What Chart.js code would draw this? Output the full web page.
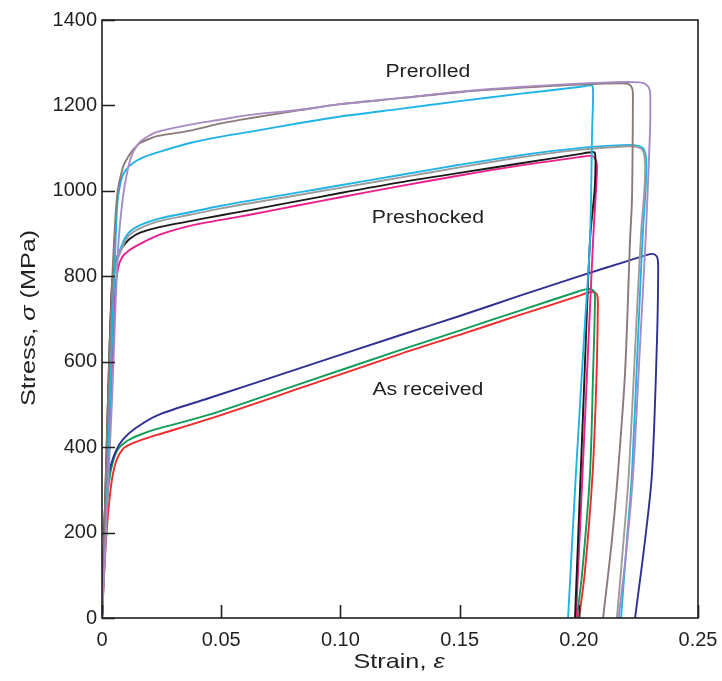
<!DOCTYPE html>
<html>
<head>
<meta charset="utf-8">
<script src="https://cdn.jsdelivr.net/npm/chart.js@4/dist/chart.umd.min.js"></script>
<style>
  html, body { margin: 0; padding: 0; background: #ffffff; }
  #wrap { position: relative; width: 722px; height: 681px; }
</style>
</head>
<body>
<div id="wrap"><canvas id="c" width="722" height="681"></canvas></div>
<script>
// ---- tick labels ----
const xTickValues = [0, 0.05, 0.10, 0.15, 0.20, 0.25];
const xTickLabels = ['0', '0.05', '0.10', '0.15', '0.20', '0.25'];
const yTickValues = [0, 200, 400, 600, 800, 1000, 1200, 1400];
const yTickLabels = ['0', '200', '400', '600', '800', '1000', '1200', '1400'];

// ---- group labels ----
const groupNames = ['Prerolled', 'Preshocked', 'As received'];
const groupLabelStrain = [0.1367, 0.1367, 0.1367];
const groupLabelStress = [1278, 936, 534];

// ---- As received ----
const navyStrain = [0, 0.0012, 0.0022, 0.0034, 0.0059, 0.0088, 0.014, 0.023, 0.045, 0.0831, 0.125, 0.15, 0.175, 0.20, 0.22, 0.2299, 0.2318, 0.2330, 0.2333, 0.2328, 0.2307, 0.2278, 0.2236];
const navyStress = [0, 250, 318, 352, 392, 418, 444, 474, 515, 585, 662, 707, 754, 800, 835, 852, 851, 843, 815, 651, 339, 183, 0];

const greenStrain = [0, 0.0014, 0.0029, 0.0048, 0.0071, 0.011, 0.016, 0.0227, 0.045, 0.0831, 0.125, 0.15, 0.175, 0.20, 0.2034, 0.2056, 0.2066, 0.2068, 0.2060, 0.2047, 0.2014, 0.1992];
const greenStress = [0, 200, 318, 370, 398, 416, 429, 442, 476, 548, 627, 673, 719, 765, 770, 769, 762, 740, 574, 339, 105, 0];

const redStrain = [0, 0.0018, 0.0038, 0.0060, 0.0088, 0.012, 0.016, 0.0227, 0.045, 0.0831, 0.125, 0.15, 0.175, 0.20, 0.2047, 0.2068, 0.2078, 0.2080, 0.2074, 0.2058, 0.2025, 0.2001];
const redStress = [0, 190, 310, 368, 396, 407, 416, 428, 466, 538, 618, 663, 709, 754, 763, 762, 754, 730, 560, 339, 105, 0];

// ---- Preshocked ----
const shockCyanStrain = [0, 0.0034, 0.0046, 0.0062, 0.0076, 0.0095, 0.0117, 0.016, 0.024, 0.0369, 0.05, 0.062, 0.0831, 0.10, 0.125, 0.15, 0.175, 0.20, 0.2186, 0.2245, 0.2272, 0.2283, 0.2280, 0.2269, 0.2248, 0.2223, 0.2202, 0.2177];
const shockCyanStress = [0, 517, 790, 840, 862, 888, 905, 920, 935, 950, 965, 977, 997, 1013, 1037, 1061, 1083, 1100, 1107, 1106, 1098, 1070, 1000, 908, 651, 339, 183, 0];

const shockGrayStrain = [0, 0.0030, 0.0046, 0.0062, 0.0076, 0.0095, 0.0117, 0.016, 0.024, 0.0369, 0.05, 0.062, 0.0831, 0.10, 0.125, 0.15, 0.175, 0.20, 0.2186, 0.2240, 0.2268, 0.2278, 0.2275, 0.2262, 0.2238, 0.2210, 0.2188, 0.2160];
const shockGrayStress = [0, 500, 780, 832, 855, 880, 898, 913, 929, 944, 959, 971, 991, 1007, 1031, 1055, 1078, 1096, 1104, 1103, 1095, 1065, 1000, 908, 651, 339, 183, 0];

const shockBlackStrain = [0, 0.0025, 0.0042, 0.0055, 0.0068, 0.0088, 0.0117, 0.016, 0.024, 0.0369, 0.05, 0.062, 0.0831, 0.10, 0.125, 0.15, 0.175, 0.20, 0.2058, 0.2068, 0.2070, 0.2066, 0.2047, 0.2020, 0.1984];
const shockBlackStress = [0, 510, 784, 830, 852, 870, 888, 902, 915, 929, 943, 955, 977, 995, 1020, 1042, 1064, 1086, 1091, 1088, 1060, 1000, 885, 510, 0];

const shockMagentaStrain = [0, 0.0038, 0.0055, 0.0067, 0.0085, 0.0117, 0.016, 0.024, 0.0369, 0.05, 0.062, 0.0831, 0.10, 0.125, 0.15, 0.175, 0.20, 0.2047, 0.2066, 0.2076, 0.2072, 0.2060, 0.2024, 0.1988];
const shockMagentaStress = [0, 517, 760, 818, 845, 862, 876, 897, 918, 932, 944, 967, 985, 1011, 1036, 1059, 1079, 1082, 1078, 1060, 1000, 885, 442, 0];

// ---- Prerolled ----
const rollPurpleStrain = [0, 0.0042, 0.0067, 0.0088, 0.011, 0.013, 0.016, 0.02, 0.0231, 0.0369, 0.05, 0.062, 0.0831, 0.10, 0.125, 0.15, 0.175, 0.20, 0.2125, 0.2257, 0.2285, 0.2298, 0.2300, 0.2299, 0.2280, 0.2258, 0.2228, 0.2200, 0.2167];
const rollPurpleStress = [0, 510, 861, 986, 1055, 1090, 1115, 1130, 1138, 1155, 1167, 1178, 1190, 1203, 1217, 1232, 1243, 1251, 1254, 1254, 1248, 1235, 1200, 1143, 885, 651, 339, 160, 0];

const rollTaupeStrain = [0, 0.0025, 0.0042, 0.0063, 0.0088, 0.011, 0.013, 0.016, 0.02, 0.0231, 0.0369, 0.05, 0.062, 0.0831, 0.10, 0.125, 0.15, 0.175, 0.20, 0.2186, 0.2212, 0.2225, 0.2227, 0.2223, 0.2215, 0.2194, 0.2164, 0.2139, 0.2102];
const rollTaupeStress = [0, 510, 780, 986, 1056, 1080, 1096, 1112, 1122, 1128, 1141, 1158, 1170, 1189, 1203, 1217, 1231, 1241, 1249, 1252, 1249, 1238, 1215, 979, 885, 574, 339, 183, 0];

const rollCyanStrain = [0, 0.0034, 0.0063, 0.0078, 0.0095, 0.013, 0.018, 0.025, 0.0369, 0.05, 0.062, 0.0831, 0.10, 0.125, 0.15, 0.175, 0.20, 0.2047, 0.2057, 0.2060, 0.2056, 0.2047, 0.2024, 0.1988, 0.1955];
const rollCyanStress = [0, 517, 960, 1020, 1045, 1065, 1080, 1093, 1112, 1127, 1138, 1159, 1174, 1192, 1210, 1227, 1243, 1247, 1246, 1225, 1143, 885, 674, 339, 0];

function pts(xs, ys) { return xs.map((x, i) => ({ x: x, y: ys[i] })); }

const curves = [
  { xs: rollPurpleStrain, ys: rollPurpleStress, color: '#a98bc4' },
  { xs: rollTaupeStrain, ys: rollTaupeStress, color: '#8a7b78' },
  { xs: rollCyanStrain, ys: rollCyanStress, color: '#1fb4e8' },
  { xs: shockGrayStrain, ys: shockGrayStress, color: '#9c9c9c' },
  { xs: shockCyanStrain, ys: shockCyanStress, color: '#1fb4e8' },
  { xs: shockBlackStrain, ys: shockBlackStress, color: '#1a1a1a' },
  { xs: shockMagentaStrain, ys: shockMagentaStress, color: '#ec1e8c' },
  { xs: navyStrain, ys: navyStress, color: '#2e3192' },
  { xs: greenStrain, ys: greenStress, color: '#0f9d58' },
  { xs: redStrain, ys: redStress, color: '#ee2a2a' }
];

const AX = '#231f20';
const FONT = '"Liberation Sans", Arial, Helvetica, sans-serif';

function drawMixed(ctx, parts, size) {
  let total = 0;
  const widths = parts.map(p => {
    ctx.font = (p.italic ? 'italic ' : '') + size + 'px ' + FONT;
    const w = ctx.measureText(p.t).width; total += w; return w;
  });
  let x = -total / 2;
  parts.forEach((p, i) => {
    ctx.font = (p.italic ? 'italic ' : '') + size + 'px ' + FONT;
    ctx.fillText(p.t, x, 0);
    x += widths[i];
  });
}

const framePlugin = {
  id: 'framePlugin',
  afterDraw(chart) {
    const ctx = chart.ctx;
    const a = chart.chartArea;
    const xs = chart.scales.x, ys = chart.scales.y;
    ctx.save();
    ctx.strokeStyle = AX;
    ctx.lineWidth = 1.6;
    ctx.strokeRect(a.left, a.top, a.right - a.left, a.bottom - a.top);
    ctx.beginPath();
    xTickValues.forEach(v => {
      const px = Math.round(xs.getPixelForValue(v)) + 0.5;
      ctx.moveTo(px, a.bottom); ctx.lineTo(px, a.bottom - 13);
    });
    yTickValues.forEach(v => {
      const py = Math.round(ys.getPixelForValue(v)) + 0.5;
      ctx.moveTo(a.left, py); ctx.lineTo(a.left + 13, py);
    });
    ctx.stroke();

    ctx.fillStyle = AX;
    ctx.textAlign = 'left';
    ctx.textBaseline = 'middle';
    groupNames.forEach((n, i) => {
      ctx.save();
      ctx.translate(xs.getPixelForValue(groupLabelStrain[i]), ys.getPixelForValue(groupLabelStress[i]));
      ctx.scale(1.18, 1);
      drawMixed(ctx, [{ t: n, italic: false }], 18);
      ctx.restore();
    });
    ctx.save();
    ctx.translate(399, 662);
    ctx.scale(1.2, 1);
    drawMixed(ctx, [{ t: 'Strain, ', italic: false }, { t: 'ε', italic: true }], 21);
    ctx.restore();
    ctx.save();
    ctx.translate(29, 318);
    ctx.rotate(-Math.PI / 2);
    ctx.scale(1.2, 1);
    drawMixed(ctx, [{ t: 'Stress, ', italic: false }, { t: 'σ', italic: true }, { t: ' (MPa)', italic: false }], 21);
    ctx.restore();
    ctx.restore();
  }
};

new Chart(document.getElementById('c'), {
  type: 'line',
  data: {
    datasets: curves.map(c => ({
      data: pts(c.xs, c.ys),
      borderColor: c.color,
      borderWidth: 1.9,
      pointRadius: 0,
      fill: false,
      tension: 0.3
    }))
  },
  options: {
    responsive: false,
    animation: false,
    layout: { padding: { top: 20, right: 24, left: 0, bottom: 0 } },
    plugins: { legend: { display: false }, tooltip: { enabled: false } },
    scales: {
      x: {
        type: 'linear', min: 0, max: 0.25,
        grid: { display: false, drawTicks: false },
        border: { display: false },
        afterBuildTicks: s => { s.ticks = xTickValues.map(v => ({ value: v })); },
        ticks: {
          callback: (v, i) => xTickLabels[i],
          color: AX, padding: 10, maxRotation: 0,
          font: { family: FONT, size: 20 }
        },
        afterFit: s => { s.height = 63; s.paddingLeft = 0; s.paddingRight = 0; }
      },
      y: {
        type: 'linear', min: 0, max: 1400,
        grid: { display: false, drawTicks: false },
        border: { display: false },
        afterBuildTicks: s => { s.ticks = yTickValues.map(v => ({ value: v })); },
        ticks: {
          callback: (v, i) => yTickLabels[i],
          color: AX, padding: 5,
          font: { family: FONT, size: 20 }
        },
        afterFit: s => { s.width = 102; s.paddingTop = 0; s.paddingBottom = 0; }
      }
    }
  },
  plugins: [framePlugin]
});
</script>
</body>
</html>
